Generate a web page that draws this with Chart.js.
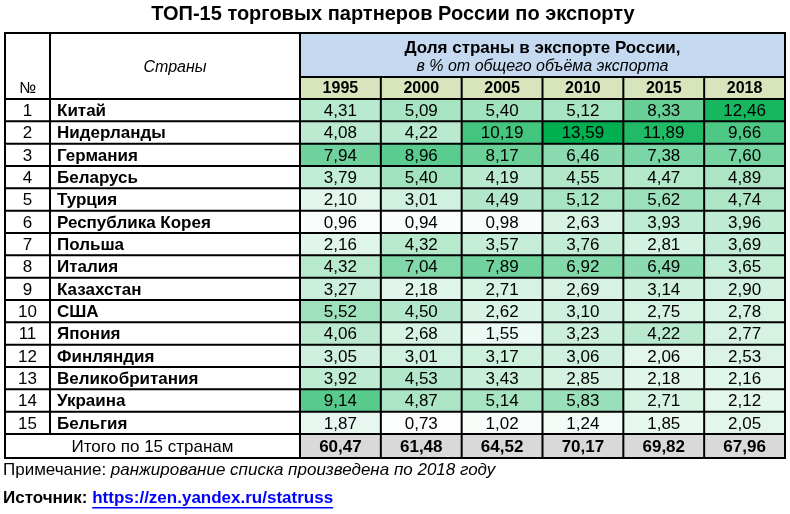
<!DOCTYPE html>
<html><head><meta charset="utf-8">
<script src="https://cdn.jsdelivr.net/npm/chart.js@4"></script>
<style>body{margin:0;background:#fff}canvas{display:block}</style>
</head><body>
<canvas id="tbl" width="790" height="514"></canvas>
<script>
const countries = ["Китай","Нидерланды","Германия","Беларусь","Турция","Республика Корея","Польша","Италия","Казахстан","США","Япония","Финляндия","Великобритания","Украина","Бельгия"];
const years = ["1995","2000","2005","2010","2015","2018"];
const v1995 = [4.31,4.08,7.94,3.79,2.10,0.96,2.16,4.32,3.27,5.52,4.06,3.05,3.92,9.14,1.87];
const v2000 = [5.09,4.22,8.96,5.40,3.01,0.94,4.32,7.04,2.18,4.50,2.68,3.01,4.53,4.87,0.73];
const v2005 = [5.40,10.19,8.17,4.19,4.49,0.98,3.57,7.89,2.71,2.62,1.55,3.17,3.43,5.14,1.02];
const v2010 = [5.12,13.59,6.46,4.55,5.12,2.63,3.76,6.92,2.69,3.10,3.23,3.06,2.85,5.83,1.24];
const v2015 = [8.33,11.89,7.38,4.47,5.62,3.93,2.81,6.49,3.14,2.75,4.22,2.06,2.18,2.71,1.85];
const v2018 = [12.46,9.66,7.60,4.89,4.74,3.96,3.69,3.65,2.90,2.78,2.77,2.53,2.16,2.12,2.05];
const totals = [60.47,61.48,64.52,70.17,69.82,67.96];
const series = [v1995,v2000,v2005,v2010,v2015,v2018];

const vmin = 0.8, vmax = 13.59;
function heat(v) {
  const t = Math.max(0, Math.min(1, (v - vmin) / (vmax - vmin)));
  const r = Math.round(252 + (0 - 252) * t);
  const g = Math.round(254 + (176 - 254) * t);
  const b = Math.round(253 + (80 - 253) * t);
  return `rgb(${r},${g},${b})`;
}
const fmt = v => v.toFixed(2).replace(".", ",");
const F = "'Liberation Sans', Arial, sans-serif";

const datasets = series.map((vals, c) => ({
  label: years[c],
  data: vals.map((v, r) => ({ x: [c, c + 1], y: countries[r], v: v })),
  backgroundColor: vals.map(heat),
  borderWidth: 0,
  barPercentage: 1,
  categoryPercentage: 1,
  grouped: false
}));

const tablePlugin = {
  id: "tablePlugin",
  afterDraw(chart) {
    const ctx = chart.ctx, xs = chart.scales.x, ys = chart.scales.y;
    const L = 5, N = 50, C = xs.getPixelForValue(0), R = xs.getPixelForValue(6);
    const top = 33, hMid = 77;
    const rowH = (ys.bottom - ys.top) / countries.length;
    const dTop = ys.top, dBot = ys.bottom, totBot = dBot + 24;
    ctx.save();
    ctx.fillStyle = "#c5d9f1"; ctx.fillRect(C, top, R - C, hMid - top);
    ctx.fillStyle = "#d7e4bc"; ctx.fillRect(C, hMid, R - C, dTop - hMid);
    ctx.fillStyle = "#d9d9d9"; ctx.fillRect(C, dBot, R - C, totBot - dBot);
    ctx.fillStyle = "#000";
    ctx.textAlign = "center"; ctx.textBaseline = "middle";
    ctx.font = "bold 20px " + F; ctx.fillText("ТОП-15 торговых партнеров России по экспорту", 393, 14);
    ctx.font = "bold 17px " + F; ctx.fillText("Доля страны в экспорте России,", (C + R) / 2, 48);
    ctx.font = "italic 16px " + F; ctx.fillText("в % от общего объёма экспорта", (C + R) / 2, 67);
    ctx.fillText("Страны", (N + C) / 2, 68);
    ctx.font = "16px " + F; ctx.fillText("№", (L + N) / 2, 89);
    ctx.font = "bold 16px " + F;
    years.forEach((y, c) => ctx.fillText(y, xs.getPixelForValue(c + 0.5), (hMid + dTop) / 2 + 1));
    countries.forEach((name, r) => {
      const cy = ys.getPixelForValue(r) + 1;
      ctx.textAlign = "center"; ctx.font = "17px " + F;
      ctx.fillText(String(r + 1), (L + N) / 2, cy);
      series.forEach((vals, c) => ctx.fillText(fmt(vals[r]), xs.getPixelForValue(c + 0.5), cy));
      ctx.textAlign = "left"; ctx.font = "bold 17px " + F;
      ctx.fillText(name, N + 7, cy);
    });
    ctx.textAlign = "center"; ctx.font = "17px " + F;
    ctx.fillText("Итого по 15 странам", (L + C) / 2, (dBot + totBot) / 2 + 1);
    ctx.font = "bold 17px " + F;
    totals.forEach((t, c) => ctx.fillText(fmt(t), xs.getPixelForValue(c + 0.5), (dBot + totBot) / 2 + 1));
    ctx.strokeStyle = "#000"; ctx.lineWidth = 2;
    ctx.beginPath();
    ctx.rect(L, top, R - L, totBot - top);
    ctx.moveTo(C, hMid); ctx.lineTo(R, hMid);
    ctx.moveTo(C, top); ctx.lineTo(C, totBot);
    ctx.moveTo(N, top); ctx.lineTo(N, dBot);
    for (let r = 0; r <= countries.length; r++) {
      const y = dTop + r * rowH; ctx.moveTo(L, y); ctx.lineTo(R, y);
    }
    for (let c = 1; c < 6; c++) {
      const x = xs.getPixelForValue(c); ctx.moveTo(x, hMid); ctx.lineTo(x, totBot);
    }
    ctx.stroke();
    ctx.textAlign = "left"; ctx.fillStyle = "#000";
    ctx.font = "17px " + F; ctx.fillText("Примечание: ", 3, 470);
    const w = ctx.measureText("Примечание: ").width;
    ctx.font = "italic 17px " + F; ctx.fillText("ранжирование списка произведена по 2018 году", 3 + w, 470);
    ctx.font = "bold 17px " + F; ctx.fillText("Источник: ", 3, 498);
    const w2 = ctx.measureText("Источник: ").width;
    ctx.fillStyle = "#0000ff"; ctx.fillText("https://zen.yandex.ru/statruss", 3 + w2, 498);
    const w3 = ctx.measureText("https://zen.yandex.ru/statruss").width;
    ctx.fillRect(3 + w2, 507, w3, 1.5);
    ctx.restore();
  }
};

new Chart(document.getElementById("tbl"), {
  type: "bar",
  data: { labels: countries, datasets: datasets },
  options: {
    indexAxis: "y",
    responsive: false,
    animation: false,
    layout: { padding: { left: 300, right: 5, top: 99, bottom: 80 } },
    scales: {
      x: { type: "linear", min: 0, max: 6, display: false },
      y: { type: "category", display: false }
    },
    plugins: { legend: { display: false }, tooltip: { enabled: false } }
  },
  plugins: [tablePlugin]
});
</script>
</body></html>
